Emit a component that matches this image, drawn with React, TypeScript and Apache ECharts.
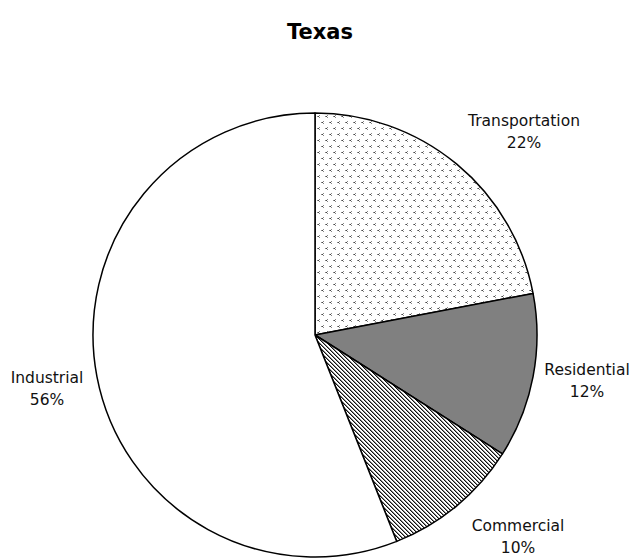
import React, { useEffect, useRef } from "react";
import * as echarts from "echarts";

const TITLE = "Texas";
const CATEGORIES = ["Transportation", "Residential", "Commercial", "Industrial"];
const VALUES = [22, 12, 10, 56];

function makeDotsTile(): HTMLCanvasElement {
  const c = document.createElement("canvas");
  c.width = 8;
  c.height = 12;
  const ctx = c.getContext("2d")!;
  ctx.fillStyle = "#ffffff";
  ctx.fillRect(0, 0, 8, 12);
  const drawShape = (ox: number, oy: number) => {
    ctx.fillStyle = "#8a8a8a";
    ctx.fillRect(ox + 2, oy, 1, 1);
    ctx.fillRect(ox, oy + 1, 1, 1);
    ctx.fillRect(ox + 2, oy + 2, 1, 1);
    ctx.fillStyle = "#444444";
    ctx.fillRect(ox + 1, oy + 1, 1, 1);
  };
  drawShape(1, 1);
  drawShape(5, 7);
  return c;
}

function makeStripeTile(): HTMLCanvasElement {
  const c = document.createElement("canvas");
  c.width = 4;
  c.height = 4;
  const ctx = c.getContext("2d")!;
  ctx.fillStyle = "#ffffff";
  ctx.fillRect(0, 0, 4, 4);
  for (let i = 0; i < 4; i++) {
    ctx.fillStyle = "#111111";
    ctx.fillRect(i, i, 1, 1);
    ctx.fillStyle = "#8a8a8a";
    ctx.fillRect((i + 1) % 4, i, 1, 1);
  }
  return c;
}

const LABEL_POS: [number, number][] = [
  [524, 132],
  [587, 381],
  [518, 537],
  [47, 389],
];

export default function App() {
  const ref = useRef<HTMLDivElement>(null);
  useEffect(() => {
    document.body.style.margin = "0";
    const chart = echarts.init(ref.current!, null, { renderer: "svg" });
    const dots = makeDotsTile();
    const stripes = makeStripeTile();
    const fills: any[] = [
      { image: dots, repeat: "repeat", imageWidth: 8, imageHeight: 12 },
      "#808080",
      { image: stripes, repeat: "repeat", imageWidth: 4, imageHeight: 4 },
      "#ffffff",
    ];
    chart.setOption({
      animation: false,
      backgroundColor: "#ffffff",
      title: {
        text: TITLE,
        left: 315,
        textAlign: "center",
        top: 16,
        textStyle: {
          fontFamily: "DejaVu Sans",
          fontWeight: "bold",
          fontSize: 21,
          color: "#000",
        },
      },
      series: [
        {
          type: "pie",
          center: [315, 335],
          radius: 222,
          startAngle: 90,
          clockwise: true,
          label: {
            show: true,
            position: "inside",
            overflow: "none",
            formatter: "{b}\n{d}%",
            fontFamily: "DejaVu Sans",
            fontSize: 15.5,
            lineHeight: 22,
            color: "#111",
            align: "center",
          },
          labelLine: { show: false },
          labelLayout: (params: any) => {
            const p = LABEL_POS[params.dataIndex];
            return { x: p[0], y: p[1], align: "center", verticalAlign: "middle" };
          },
          emphasis: { disabled: true },
          itemStyle: { borderColor: "#000", borderWidth: 1.5 },
          data: CATEGORIES.map((name, i) => ({
            name,
            value: VALUES[i],
            itemStyle: { color: fills[i] },
          })),
        },
      ],
    });
    return () => chart.dispose();
  }, []);
  return <div ref={ref} style={{ width: 633, height: 559 }} />;
}
